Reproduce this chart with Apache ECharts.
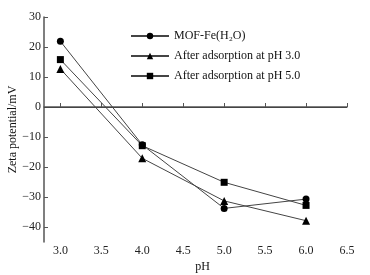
<!DOCTYPE html>
<html>
<head>
<meta charset="utf-8">
<script src="https://cdn.jsdelivr.net/npm/echarts@6/dist/echarts.min.js"></script>
<style>
  html, body { margin: 0; padding: 0; background: #fff; }
  #chart { width: 370px; height: 275px; }
</style>
</head>
<body>
<div id="chart"></div>
<script>
// pH values measured
var phList = [3.0, 4.0, 5.0, 6.0]
// zeta potential (mV)
var mofFe = [21.9, -12.6, -33.8, -30.7]
var afterPh3 = [12.7, -17.1, -31.3, -37.9]
var afterPh5 = [15.8, -12.9, -25.1, -32.8]
// tick labels
var xTicks = [3.0, 3.5, 4.0, 4.5, 5.0, 5.5, 6.0, 6.5]
var yTicks = [-40, -30, -20, -10, 0, 10, 20, 30]

var serif = 'Liberation Serif, Times New Roman, serif'

function pairs(xs, ys) {
    return xs.map(function (x, i) { return [x, ys[i]] })
}

function makeSeries(name, data, symbol) {
    return {
        name: name,
        type: 'line',
        data: pairs(phList, data),
        symbol: symbol,
        symbolSize: symbol === 'triangle' ? 8 : 7,
        itemStyle: { color: '#000' },
        lineStyle: { color: '#444', width: 1 },
        animation: false
    }
}

var myChart = echarts.init(document.getElementById('chart'))
var series = [
    makeSeries('MOF-Fe(H₂O)', mofFe, 'circle'),
    makeSeries('After adsorption at pH 3.0', afterPh3, 'triangle'),
    makeSeries('After adsorption at pH 5.0', afterPh5, 'rect')
]
// zero line
series[0].markLine = {
    silent: true,
    symbol: 'none',
    label: { show: false },
    lineStyle: { color: '#444', width: 1, type: 'solid' },
    data: [{ yAxis: 0 }]
}

myChart.setOption({
    animation: false,
    grid: { left: 44, right: 23, top: 17, bottom: 33, containLabel: false, outerBoundsMode: 'none' },
    legend: {
        orient: 'vertical',
        left: 125,
        top: 25,
        itemWidth: 38,
        itemHeight: 8,
        itemGap: 8,
        textStyle: { fontFamily: serif, fontSize: 12, color: '#111' },
        data: series.map(function (s) { return s.name })
    },
    xAxis: {
        type: 'value',
        min: 2.8,
        max: 6.5,
        name: 'pH',
        nameLocation: 'middle',
        nameGap: 19,
        nameMoveOverlap: false,
        nameTextStyle: { fontFamily: serif, fontSize: 12, color: '#111', padding: [0, 0, 0, 14] },
        axisLine: { show: true, lineStyle: { color: '#555', width: 1.5 } },
        axisTick: { show: true, inside: true, length: 4, customValues: xTicks, lineStyle: { color: '#555' } },
        axisLabel: {
            customValues: xTicks,
            fontFamily: serif, fontSize: 12, color: '#222', margin: 3,
            formatter: function (v) { return v.toFixed(1) }
        },
        splitLine: { show: false }
    },
    yAxis: {
        type: 'value',
        min: -45,
        max: 30,
        name: 'Zeta potential/mV',
        nameLocation: 'middle',
        nameGap: 25,
        nameMoveOverlap: false,
        nameTextStyle: { fontFamily: serif, fontSize: 12, color: '#111' },
        axisLine: { show: true, lineStyle: { color: '#555', width: 1.5 } },
        axisTick: { show: true, inside: true, length: 4, customValues: yTicks, lineStyle: { color: '#555' } },
        axisLabel: {
            customValues: yTicks,
            fontFamily: serif, fontSize: 12, color: '#222', margin: 3,
            formatter: function (v) { return String(v).replace('-', '−') }
        },
        splitLine: { show: false }
    },
    series: series
})
</script>
</body>
</html>
